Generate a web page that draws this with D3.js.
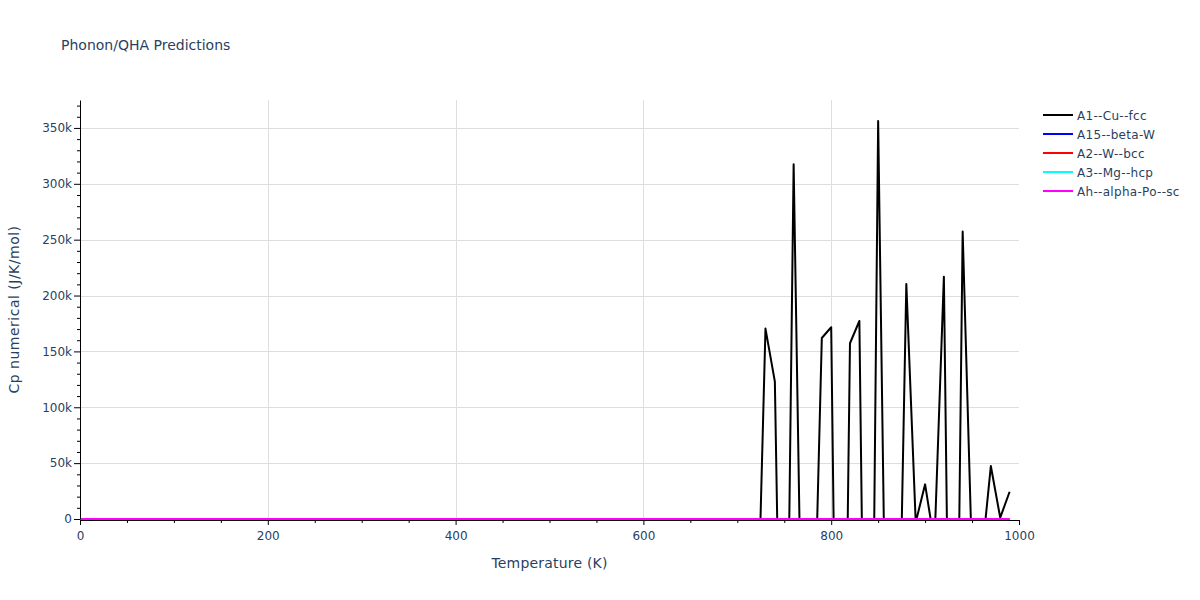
<!DOCTYPE html>
<html>
<head>
<meta charset="utf-8">
<script src="https://cdn.jsdelivr.net/npm/d3@7"></script>
<style>
  html, body { margin: 0; padding: 0; background: #fff; }
  svg { display: block; font-family: "DejaVu Sans", Verdana, sans-serif; }
</style>
</head>
<body>
<svg id="chart" width="1200" height="600"></svg>
<script>
// ---------------- data ----------------
const temperatures = [
  0,10,20,30,40,50,60,70,80,90,
  100,110,120,130,140,150,160,170,180,190,
  200,210,220,230,240,250,260,270,280,290,
  300,310,320,330,340,350,360,370,380,390,
  400,410,420,430,440,450,460,470,480,490,
  500,510,520,530,540,550,560,570,580,590,
  600,610,620,630,640,650,660,670,680,690,
  700,710,720,730,740,750,760,770,780,790,
  800,810,820,830,840,850,860,870,880,890,
  900,910,920,930,940,950,960,970,980,990
];
const cpA1 = [
  0,0,0,0,0,0,0,0,0,0,
  0,0,0,0,0,0,0,0,0,0,
  0,0,0,0,0,0,0,0,0,0,
  0,0,0,0,0,0,0,0,0,0,
  0,0,0,0,0,0,0,0,0,0,
  0,0,0,0,0,0,0,0,0,0,
  0,0,0,0,0,0,0,0,0,0,
  0,0,-151000,170400,122900,-369000,317500,-195000,-169000,162000,
  171600,-500000,157300,177200,-500000,356300,-237000,-228000,210400,-3000,
  31000,-22000,216900,-461000,257200,-38000,-37000,47400,1200,24400
];
const cpA15 = [
  0,0,0,0,0,0,0,0,0,0, 0,0,0,0,0,0,0,0,0,0, 0,0,0,0,0,0,0,0,0,0, 0,0,0,0,0,0,0,0,0,0,
  0,0,0,0,0,0,0,0,0,0, 0,0,0,0,0,0,0,0,0,0, 0,0,0,0,0,0,0,0,0,0, 0,0,0,0,0,0,0,0,0,0,
  0,0,0,0,0,0,0,0,0,0, 0,0,0,0,0,0,0,0,0,0
];
const cpA2 = [
  0,0,0,0,0,0,0,0,0,0, 0,0,0,0,0,0,0,0,0,0, 0,0,0,0,0,0,0,0,0,0, 0,0,0,0,0,0,0,0,0,0,
  0,0,0,0,0,0,0,0,0,0, 0,0,0,0,0,0,0,0,0,0, 0,0,0,0,0,0,0,0,0,0, 0,0,0,0,0,0,0,0,0,0,
  0,0,0,0,0,0,0,0,0,0, 0,0,0,0,0,0,0,0,0,0
];
const cpA3 = [
  0,0,0,0,0,0,0,0,0,0, 0,0,0,0,0,0,0,0,0,0, 0,0,0,0,0,0,0,0,0,0, 0,0,0,0,0,0,0,0,0,0,
  0,0,0,0,0,0,0,0,0,0, 0,0,0,0,0,0,0,0,0,0, 0,0,0,0,0,0,0,0,0,0, 0,0,0,0,0,0,0,0,0,0,
  0,0,0,0,0,0,0,0,0,0, 0,0,0,0,0,0,0,0,0,0
];
const cpAh = [
  0,0,0,0,0,0,0,0,0,0, 0,0,0,0,0,0,0,0,0,0, 0,0,0,0,0,0,0,0,0,0, 0,0,0,0,0,0,0,0,0,0,
  0,0,0,0,0,0,0,0,0,0, 0,0,0,0,0,0,0,0,0,0, 0,0,0,0,0,0,0,0,0,0, 0,0,0,0,0,0,0,0,0,0,
  0,0,0,0,0,0,0,0,0,0, 0,0,0,0,0,0,0,0,0,0
];
const seriesNames = ["A1--Cu--fcc", "A15--beta-W", "A2--W--bcc", "A3--Mg--hcp", "Ah--alpha-Po--sc"];
const seriesColors = ["#000000", "#0000ff", "#ff0000", "#00ffff", "#ff00ff"];
const seriesValues = [cpA1, cpA15, cpA2, cpA3, cpAh];

const xTicks = [0, 200, 400, 600, 800, 1000];
const xMinorTicks = [50,100,150,250,300,350,450,500,550,650,700,750,850,900,950];
const yTicks = [0, 50000, 100000, 150000, 200000, 250000, 300000, 350000];
const yMinorTicks = [10000,20000,30000,40000,60000,70000,80000,90000,110000,120000,130000,140000,
  160000,170000,180000,190000,210000,220000,230000,240000,260000,270000,280000,290000,
  310000,320000,330000,340000,360000,370000];
const xDomain = [0, 1000];
const yDomain = [0, 375000];

// ---------------- layout ----------------
const W = 1200, H = 600;
const m = { left: 80, right: 181, top: 100, bottom: 81 };
const pw = W - m.left - m.right;   // 939
const ph = H - m.top - m.bottom;   // 419
const textColor = "#2a3f5f";
const gridColor = "#dedede";
const fontFam = '"DejaVu Sans", Verdana, sans-serif';

const svg = d3.select("#chart");
const x = d3.scaleLinear().domain(xDomain).range([m.left, m.left + pw]);
const y = d3.scaleLinear().domain(yDomain).range([m.top + ph, m.top]);

// gridlines
const grid = svg.append("g");
grid.selectAll("line.gx").data(xTicks.filter(d => d > 0 && d < 1000)).enter().append("line")
  .attr("x1", d => Math.round(x(d)) + 0.5).attr("x2", d => Math.round(x(d)) + 0.5)
  .attr("y1", m.top).attr("y2", m.top + ph)
  .attr("stroke", gridColor).attr("stroke-width", 1);
grid.selectAll("line.gy").data(yTicks.filter(d => d > 0)).enter().append("line")
  .attr("y1", d => Math.round(y(d)) + 0.5).attr("y2", d => Math.round(y(d)) + 0.5)
  .attr("x1", m.left).attr("x2", m.left + pw)
  .attr("stroke", gridColor).attr("stroke-width", 1);

// clip
svg.append("clipPath").attr("id", "plotclip").append("rect")
  .attr("x", m.left).attr("y", m.top).attr("width", pw).attr("height", ph + 1);

const lineGen = d3.line().x(d => x(d[0])).y(d => y(d[1]));
const lines = svg.append("g").attr("clip-path", "url(#plotclip)");
seriesValues.forEach((vals, i) => {
  const pts = temperatures.map((t, j) => [t, vals[j]]);
  lines.append("path").datum(pts)
    .attr("d", lineGen)
    .attr("fill", "none")
    .attr("stroke", seriesColors[i])
    .attr("stroke-width", 2)
    .attr("stroke-linejoin", "round");
});

// axes
const axisY0 = m.top + ph + 1;
const xAxis = svg.append("g").attr("transform", `translate(0,${axisY0})`)
  .call(d3.axisBottom(x).tickValues(xTicks).tickSize(5).tickSizeOuter(0).tickPadding(6).tickFormat(d3.format("d")));
const xMinor = svg.append("g").attr("transform", `translate(0,${axisY0})`)
  .call(d3.axisBottom(x).tickValues(xMinorTicks).tickSize(3).tickSizeOuter(0).tickFormat(""));
xMinor.select(".domain").remove();

const yAxis = svg.append("g").attr("transform", `translate(${m.left},0)`)
  .call(d3.axisLeft(y).tickValues(yTicks).tickSize(6).tickSizeOuter(0).tickPadding(2).tickFormat(d3.format("~s")));
const yMinor = svg.append("g").attr("transform", `translate(${m.left},0)`)
  .call(d3.axisLeft(y).tickValues(yMinorTicks).tickSize(3).tickSizeOuter(0).tickFormat(""));
yMinor.select(".domain").remove();

[xAxis, yAxis].forEach(g => {
  g.selectAll("text").attr("fill", textColor).style("font-size", "12px")
    .style("font-family", fontFam);
  g.select(".domain").attr("stroke", "#000");
  g.selectAll(".tick line").attr("stroke", "#000");
});
[xMinor, yMinor].forEach(g => g.selectAll(".tick line").attr("stroke", "#000"));

// titles
svg.append("text").attr("x", 61).attr("y", 50)
  .attr("fill", textColor).style("font-size", "14px")
  .text("Phonon/QHA Predictions");

svg.append("text").attr("x", m.left + pw / 2).attr("y", 568)
  .attr("text-anchor", "middle").attr("fill", textColor).style("font-size", "14px")
  .style("letter-spacing", "0.2px")
  .text("Temperature (K)");

svg.append("text")
  .attr("transform", `translate(19,${m.top + ph / 2}) rotate(-90)`)
  .attr("text-anchor", "middle").attr("fill", textColor).style("font-size", "14px")
  .style("letter-spacing", "0.5px")
  .text("Cp numerical (J/K/mol)");

// legend
const legend = svg.append("g").attr("transform", "translate(1043,115)");
seriesNames.forEach((name, i) => {
  const g = legend.append("g").attr("transform", `translate(0,${i * 19})`);
  g.append("line").attr("x1", 0).attr("x2", 30).attr("y1", 0).attr("y2", 0)
    .attr("stroke", seriesColors[i]).attr("stroke-width", 2);
  g.append("text").attr("x", 34).attr("y", 4.5)
    .attr("fill", textColor).style("font-size", "12px")
    .style("letter-spacing", "0.3px").text(name);
});
</script>
</body>
</html>
